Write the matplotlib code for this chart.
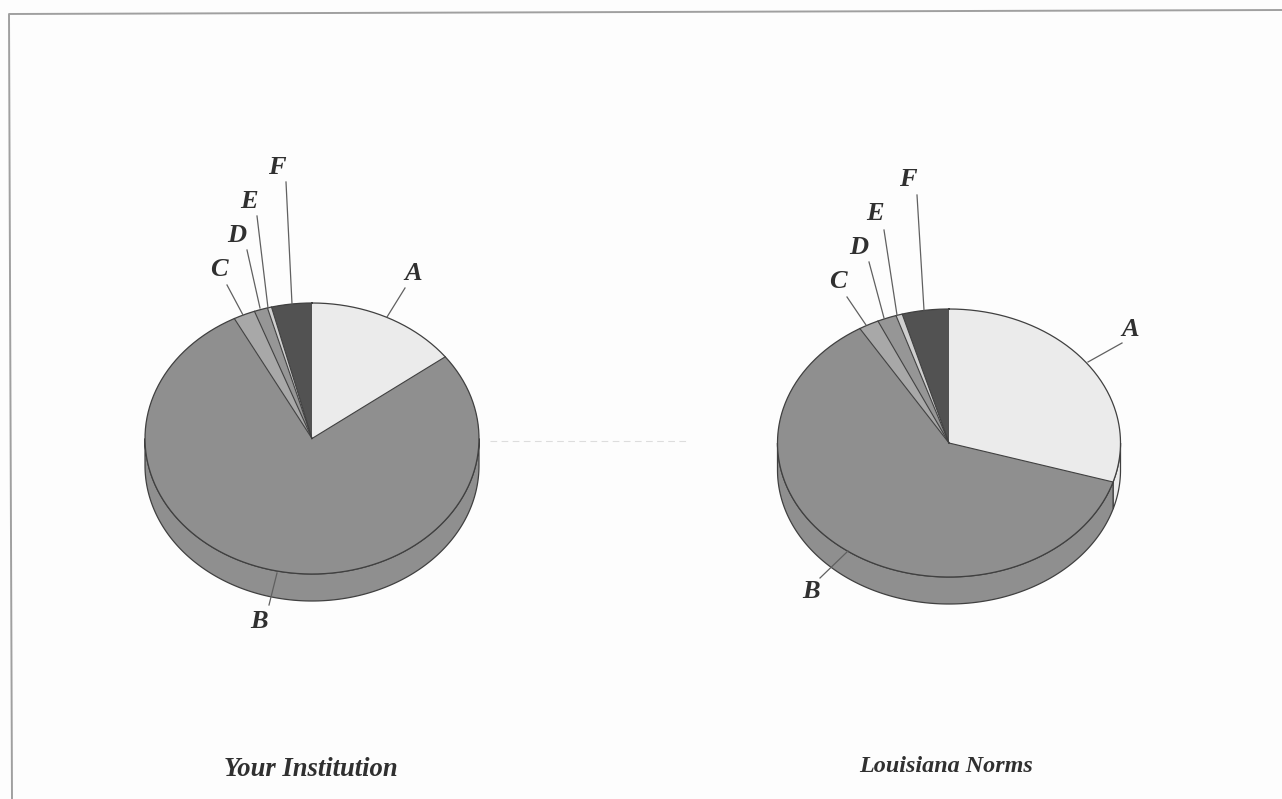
import matplotlib
matplotlib.use('Agg')
import matplotlib.pyplot as plt
import numpy as np

# slice shares in percent
slices = ['A', 'B', 'C', 'D', 'E', 'F']
institution = [14.7, 77.6, 2.1, 1.3, 0.4, 3.9]
norms = [29.7, 61.6, 1.9, 1.8, 0.6, 4.4]
titles = ['Your Institution', 'Louisiana Norms']

colors = ['#ebebeb', '#8f8f8f', '#a8a8a8', '#969696', '#cfcfcf', '#525252']
edge = '#404040'
depth = 27


def rim(cx, cy, rx, ry, t):
    return cx + rx * np.sin(t), cy - ry * np.cos(t)


def draw_pie(ax, values, cx, cy, rx, ry):
    stops = np.radians(np.cumsum([0] + values) / sum(values) * 360)

    # side wall first, only the part facing the viewer
    for i in range(len(values)):
        lo = max(stops[i], np.pi / 2)
        hi = min(stops[i + 1], 3 * np.pi / 2)
        if hi <= lo:
            continue
        t = np.linspace(lo, hi, 200)
        x, y = rim(cx, cy, rx, ry, t)
        ax.fill(np.r_[x, x[::-1]], np.r_[y, y[::-1] + depth], fc=colors[i],
                ec=edge, lw=0.9, zorder=2)

    # top face
    for i in range(len(values)):
        t = np.linspace(stops[i], stops[i + 1], 300)
        x, y = rim(cx, cy, rx, ry, t)
        hatch = '......' if slices[i] == 'C' else None
        ax.fill(np.r_[cx, x], np.r_[cy, y], fc=colors[i], ec='none',
                hatch=hatch, zorder=3)

    # outline, no spoke between F and A
    t = np.linspace(0, 2 * np.pi, 600)
    x, y = rim(cx, cy, rx, ry, t)
    ax.plot(x, y, color=edge, lw=0.9, zorder=4)
    for s in stops[1:-1]:
        x, y = rim(cx, cy, rx, ry, s)
        ax.plot([cx, x], [cy, y], color=edge, lw=0.8, zorder=4)


def draw_labels(ax, labels):
    for name, lx, ly, x0, y0, x1, y1 in labels:
        ax.plot([x0, x1], [y0, y1], color='#606060', lw=0.9, zorder=5)
        ax.text(lx, ly, name, fontsize=19, ha='center', va='center',
                family='Liberation Serif', style='italic', weight='bold',
                color='#303030')


plt.rcParams['hatch.color'] = '#bcbcbc'
plt.rcParams['hatch.linewidth'] = 0.4

fig = plt.figure(figsize=(12.82, 7.99), dpi=100, facecolor='#fdfdfd')
ax = fig.add_axes([0, 0, 1, 1])
ax.set_xlim(0, 1282)
ax.set_ylim(799, 0)
ax.axis('off')

# page frame, slightly skewed by the scan
ax.plot([12, 9, 1282], [799, 14, 10], color='#a0a0a0', lw=1.4)

# faint scan line between the pies
ax.plot([490, 690], [441, 441], color='#dddddd', lw=0.8, ls=(0, (6, 4)))

draw_pie(ax, institution, 312, 438.5, 167, 135.5)
draw_pie(ax, norms, 949, 443, 171.5, 134)

draw_labels(ax, [
    ('A', 413, 273, 387, 317, 405, 288),
    ('B', 259, 621, 277, 573, 269, 605),
    ('C', 219, 270, 243, 315, 227, 285),
    ('D', 237, 235, 260, 308, 247, 250),
    ('E', 249, 202, 268, 308, 257, 216),
    ('F', 277, 168, 292, 304, 286, 182),
])
draw_labels(ax, [
    ('A', 1130, 329, 1088, 362, 1122, 343),
    ('B', 811, 592, 848, 551, 820, 578),
    ('C', 838, 282, 866, 325, 847, 297),
    ('D', 859, 247, 884, 318, 869, 262),
    ('E', 875, 214, 897, 315, 884, 230),
    ('F', 908, 179, 924, 310, 917, 195),
])

ax.text(311, 769, titles[0], fontsize=19.2, ha='center', va='center',
        family='Liberation Serif', style='italic', weight='bold', color='#303030')
ax.text(946, 767, titles[1], fontsize=17.4, ha='center', va='center',
        family='Liberation Serif', style='italic', weight='bold', color='#303030')

plt.savefig('out.png', dpi=100, facecolor=fig.get_facecolor())
